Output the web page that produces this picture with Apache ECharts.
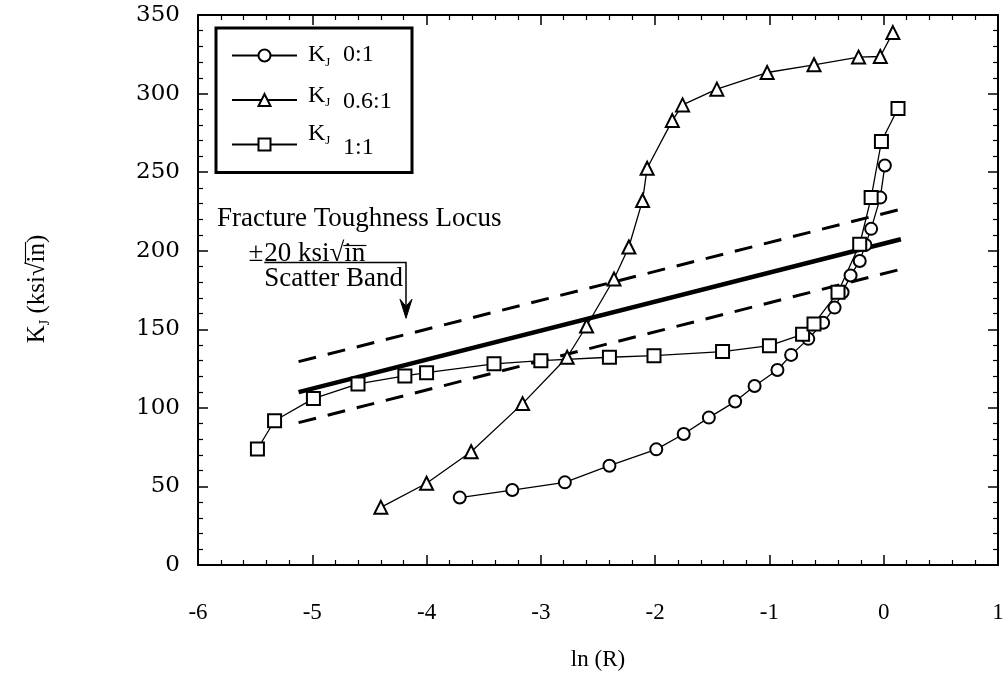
<!DOCTYPE html>
<html><head><meta charset="utf-8">
<script src="https://cdn.jsdelivr.net/npm/echarts@6/dist/echarts.min.js"></script>
<style>html,body{margin:0;padding:0;background:#fff}#c{width:1007px;height:678px}</style>
</head><body><div id="c"></div>
<script>
// ---- data ----
const xTickLabels = ['-6','-5','-4','-3','-2','-1','0','1'];
const yTickLabels = ['0','50','100','150','200','250','300','350'];
const seriesNames = ['KJ 0:1','KJ 0.6:1','KJ 1:1'];
const legendRatios = ['0:1','0.6:1','1:1'];

const circleX = [-3.71,-3.25,-2.79,-2.40,-1.99,-1.75,-1.53,-1.30,-1.13,-0.93,-0.81,-0.66,-0.53,-0.43,-0.36,-0.29,-0.21,-0.16,-0.11,-0.03,0.01];
const circleY = [42.9,47.7,52.6,63.2,73.6,83.4,93.8,104,113.9,124.1,133.7,143.9,154.2,163.8,173.6,184.2,193.5,203.7,213.9,233.8,254.2];

const triX = [-4.40,-4.00,-3.61,-3.16,-2.77,-2.60,-2.36,-2.23,-2.11,-2.07,-1.85,-1.76,-1.46,-1.02,-0.61,-0.22,-0.03,0.08];
const triY = [36.7,52,72.1,102.7,132.2,152.1,182,202.4,232,252.5,282.8,292.8,302.8,313.4,318.3,323.2,323.6,338.8];

const sqX = [-5.48,-5.33,-4.99,-4.60,-4.19,-4.00,-3.41,-3.00,-2.40,-2.01,-1.41,-1.00,-0.71,-0.61,-0.40,-0.21,-0.11,-0.02,0.125];
const sqY = [73.8,91.8,105.9,115.2,120.3,122.4,128,130,132.2,133.2,135.8,139.6,146.8,153.4,173.6,204.1,233.8,269.5,290.5];

// fracture toughness locus and +/-20 scatter band (end points)
const locusX = [-5.12, 0.15];
const locusMid = [110, 207.3];
const locusUpper = [129.4, 226.4];
const locusLower = [90.6, 188.2];

// annotation anchor (arrow) in data units
const arrowTip = [-4.18, 157];
const bracketTop = 192.5;
const bracketLeftX = -5.42;

// ---- chart ----
const FONT = 'Liberation Serif';
const chart = echarts.init(document.getElementById('c'), null, {renderer: 'canvas'});
const pairs = (xs, ys) => xs.map((x, i) => [x, ys[i]]);

const axisCommon = {
  axisLine: {show: true, onZero: false, lineStyle: {color: '#000', width: 2}},
  axisTick: {show: true, inside: true, length: 10, lineStyle: {color: '#000', width: 1.5}},
  minorTick: {show: true, splitNumber: 5, length: 5, lineStyle: {color: '#000', width: 1.2}},
  splitLine: {show: false},
  minorSplitLine: {show: false}
};

const markerSeries = (name, xs, ys, sym, size) => ({
  type: 'line', name, data: pairs(xs, ys), symbol: sym, symbolSize: size,
  showAllSymbol: true, z: 5,
  lineStyle: {color: '#000', width: 1.3},
  itemStyle: {color: '#000', borderColor: '#000', borderWidth: 1.5}
});
const bandSeries = (ys, width, type) => ({
  type: 'line', data: pairs(locusX, ys), symbol: 'none', silent: true, z: 3,
  lineStyle: {color: '#000', width, type}
});

chart.setOption({
  animation: false,
  backgroundColor: '#fff',
  grid: {left: 198, right: 9, top: 15, bottom: 113, outerBoundsMode: 'none', containLabel: false},
  xAxis: [
    Object.assign({type: 'value', position: 'bottom', min: -6, max: 1, interval: 1,
      axisLabel: {color: '#000', fontFamily: FONT, fontSize: 23, margin: 36,
        formatter: v => xTickLabels[Math.round(v + 6)]},
      name: 'ln (R)', nameLocation: 'middle', nameGap: 83,
      nameTextStyle: {color: '#000', fontFamily: FONT, fontSize: 23}}, axisCommon),
    Object.assign({type: 'value', position: 'top', min: -6, max: 1, interval: 1,
      axisLabel: {show: false}}, axisCommon)
  ],
  yAxis: [
    Object.assign({type: 'value', position: 'left', min: 0, max: 350, interval: 50,
      axisLabel: {color: '#000', fontFamily: 'DejaVu Serif', fontSize: 23, margin: 18,
        formatter: v => yTickLabels[Math.round(v / 50)]}}, axisCommon),
    Object.assign({type: 'value', position: 'right', min: 0, max: 350, interval: 50,
      axisLabel: {show: false}}, axisCommon)
  ],
  legend: {
    data: seriesNames, orient: 'vertical', left: 216, top: 28,
    itemWidth: 65, itemHeight: 15, itemGap: 30,
    borderColor: '#000', borderWidth: 3, borderRadius: 0,
    padding: [20, 114, 21, 15],
    selectedMode: false,
    textStyle: {color: '#000', fontFamily: FONT, fontSize: 1},
    formatter: () => ''
  },
  series: [
    bandSeries(locusUpper, 3, [18, 12]),
    bandSeries(locusLower, 3, [18, 12]),
    bandSeries(locusMid, 4.5, 'solid'),
    markerSeries(seriesNames[0], circleX, circleY, 'emptyCircle', 12),
    markerSeries(seriesNames[1], triX, triY, 'emptyTriangle', 13),
    markerSeries(seriesNames[2], sqX, sqY, 'emptyRect', 13)
  ]
});

// ---- annotation, legend text & axis title (text graphics) ----
const ctx = document.createElement('canvas').getContext('2d');
const tw = (s, size) => { ctx.font = size + 'px "' + FONT + '"'; return ctx.measureText(s).width; };
const fnt = s => s + 'px "' + FONT + '"';

const tipPx = chart.convertToPixel({gridIndex: 0}, arrowTip);
const bracketPx = chart.convertToPixel({gridIndex: 0}, [bracketLeftX, bracketTop]);
const AF = 27;
const lineStartX = bracketPx[0];
const bracketY = bracketPx[1];

const pmW = tw('±', AF);
const pre = '20 ksi√';
const preW = tw(pre, AF);
const inW = tw('in', AF);

// legend text layout: [K centre y, J centre y, ratio centre y]
const LF = 24, LS = 13;
const legendRows = [[55, 63, 55], [96, 103, 102], [134, 141, 148]];
const kW = tw('K', LF);
const legendText = [];
legendRows.forEach((r, i) => {
  legendText.push({type: 'text', x: 308, y: r[0], silent: true, z: 100,
    style: {text: 'K', font: fnt(LF), fill: '#000', verticalAlign: 'middle'}});
  legendText.push({type: 'text', x: 308 + kW, y: r[1], silent: true, z: 100,
    style: {text: 'J', font: fnt(LS), fill: '#000', verticalAlign: 'middle'}});
  legendText.push({type: 'text', x: 343, y: r[2], silent: true, z: 100,
    style: {text: legendRatios[i], font: fnt(LF), fill: '#000', verticalAlign: 'middle'}});
});

// y-axis title pieces
const YF = 25, YS = 14;
const yk = tw('K', YF), yj = tw('J', YS), yp = tw(' (ksi√', YF), yi = tw('in', YF), yc = tw(')', YF);
const yTotal = yk + yj + yp + yi + yc;
const y0 = -yTotal / 2;

chart.setOption({
  graphic: legendText.concat([
    {type: 'text', left: 217, top: 205, silent: true,
      style: {text: 'Fracture Toughness Locus', font: fnt(AF), fill: '#000'}},
    {type: 'text', x: lineStartX - pmW - 1, y: bracketY + 5, silent: true,
      style: {text: '±', font: fnt(AF), fill: '#000', verticalAlign: 'bottom'}},
    {type: 'text', x: lineStartX, y: bracketY + 5, silent: true,
      style: {text: pre + 'in', font: fnt(AF), fill: '#000', verticalAlign: 'bottom'}},
    {type: 'line', silent: true,
      shape: {x1: lineStartX + preW - 1, y1: bracketY - 17, x2: lineStartX + preW + inW + 1, y2: bracketY - 17},
      style: {stroke: '#000', lineWidth: 1.2}},
    {type: 'text', x: lineStartX, y: bracketY + 3, silent: true,
      style: {text: 'Scatter Band', font: fnt(AF), fill: '#000', verticalAlign: 'top'}},
    {type: 'polyline', silent: true,
      shape: {points: [[lineStartX, bracketY], [tipPx[0], bracketY], [tipPx[0], tipPx[1] - 6]]},
      style: {stroke: '#000', lineWidth: 1.5, fill: null}},
    {type: 'polygon', silent: true,
      shape: {points: [[tipPx[0], tipPx[1]], [tipPx[0] - 6, tipPx[1] - 19], [tipPx[0], tipPx[1] - 12], [tipPx[0] + 6, tipPx[1] - 19]]},
      style: {fill: '#000', stroke: '#000', lineWidth: 1}},
    {type: 'group', x: 37, y: 289, rotation: Math.PI / 2, silent: true, children: [
      {type: 'text', x: y0, y: 0, style: {text: 'K', font: fnt(YF), fill: '#000', verticalAlign: 'middle'}},
      {type: 'text', x: y0 + yk, y: 8, style: {text: 'J', font: fnt(YS), fill: '#000', verticalAlign: 'middle'}},
      {type: 'text', x: y0 + yk + yj, y: 0, style: {text: ' (ksi√in)', font: fnt(YF), fill: '#000', verticalAlign: 'middle'}},
      {type: 'line', shape: {x1: y0 + yk + yj + yp - 1, y1: -YF / 2 + 1, x2: y0 + yk + yj + yp + yi + 1, y2: -YF / 2 + 1},
        style: {stroke: '#000', lineWidth: 1.1}}
    ]}
  ])
});
</script>
</body></html>
